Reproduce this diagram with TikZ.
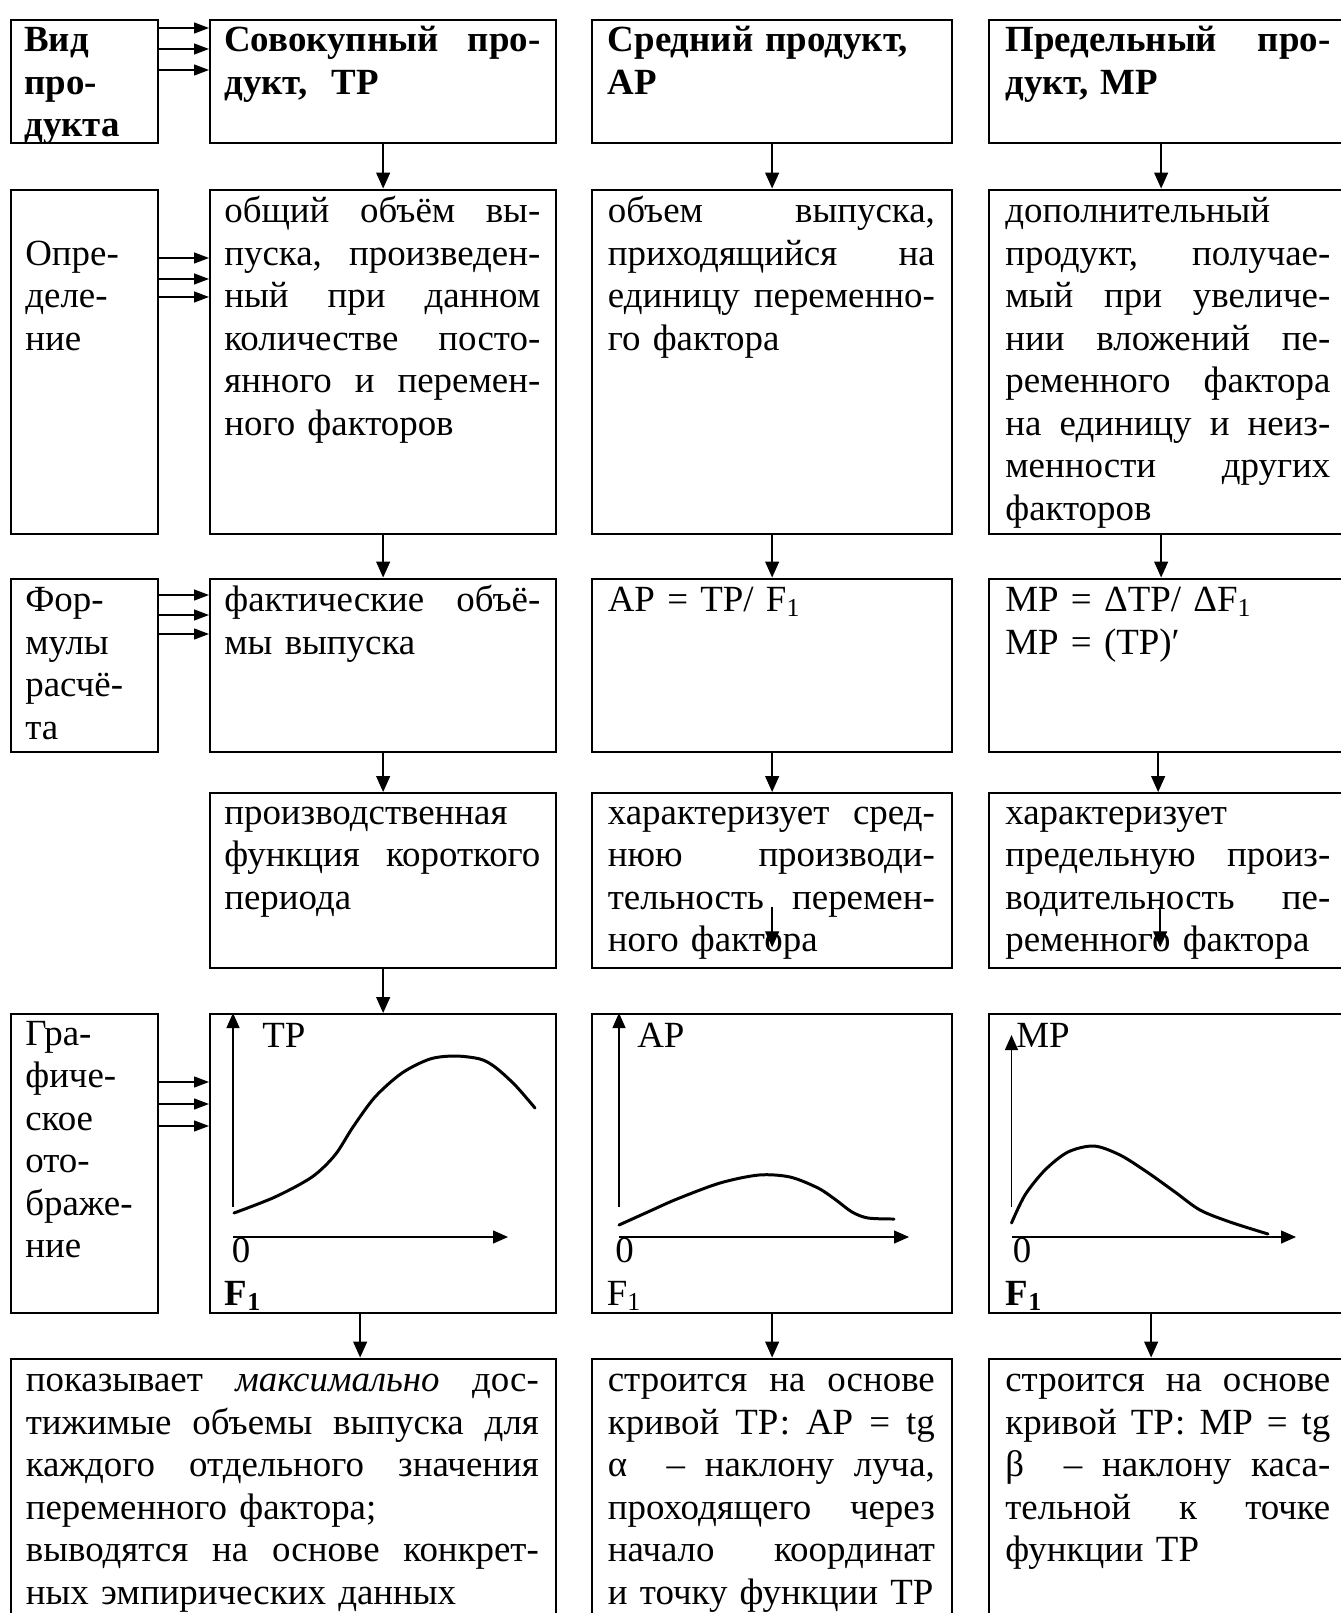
\documentclass[tikz,border=0pt]{standalone}
\usepackage{fontspec}
\setmainfont{Liberation Serif}
\usetikzlibrary{arrows.meta, positioning, calc}

\newlength\px
\setlength\px{0.02cm}
\newcommand\fs{\fontsize{21pt}{24.2pt}\selectfont}
\newcommand\jline[1]{\makebox[\linewidth][s]{\spaceskip=0pt\xspaceskip=0pt #1}}

\begin{document}
\begin{tikzpicture}[
    x=0.02cm, y=-0.02cm,
    box/.style={draw, line width=1.3pt, anchor=north west, inner sep=0pt},
    txt/.style={anchor=base west, inner sep=0pt, align=left, font=\fs},
    hdr/.style={txt, font=\fs\bfseries},
    darr/.style={-{Triangle[length=0.32cm, width=0.28cm]}, line width=0.75pt},
    sarr/.style={-{Triangle[length=0.3cm, width=0.22cm]}, line width=0.75pt},
    axis/.style={-{Triangle[length=0.3cm, width=0.26cm]}, line width=0.75pt},
    curve/.style={line width=1.7pt, line cap=round}
]
    \useasboundingbox (0,0) rectangle (1340,1613);

    % row 1: kind of product
    \node[box, minimum width=147\px, minimum height=123.5\px] (vid) at (10,18.5) {};
    \node[box, minimum width=346\px, minimum height=123.5\px] (tp1) at (209,18.5) {};
    \node[box, minimum width=360\px, minimum height=123.5\px] (ap1) at (591,18.5) {};
    \node[box, minimum width=357\px, minimum height=123.5\px] (mp1) at (988,18.5) {};
    \node[hdr, text width=125\px] (vidT) at (24,51.5) {Вид\\про-\\дукта};
    \node[hdr, text width=316\px] (tp1T) at (224,51.5) {\jline{Совокупный про-}\\дукт,\ \ ТР};
    \node[hdr, text width=327\px] (ap1T) at (607.5,51.5) {Средний продукт,\\АР};
    \node[hdr, text width=325\px] (mp1T) at (1005,51.5) {\jline{Предельный про-}\\дукт, МР};

    % row 2: definition
    \node[box, minimum width=147\px, minimum height=344\px] (def) at (10,188.5) {};
    \node[box, minimum width=346\px, minimum height=344\px] (tp2) at (209,188.5) {};
    \node[box, minimum width=360\px, minimum height=344\px] (ap2) at (591,188.5) {};
    \node[box, minimum width=357\px, minimum height=344\px] (mp2) at (988,188.5) {};
    \node[txt, text width=125\px] (defT) at (25,265) {Опре-\\деле-\\ние};
    \node[txt, text width=316\px] (tp2T) at (224,222.5) {\jline{общий объём вы-}\\\jline{пуска, произведен-}\\\jline{ный при данном}\\\jline{количестве посто-}\\\jline{янного и перемен-}\\ного факторов};
    \node[txt, text width=327\px] (ap2T) at (607.5,222.5) {\jline{объем выпуска,}\\\jline{приходящийся на}\\\jline{единицу переменно-}\\го фактора};
    \node[txt, text width=325\px] (mp2T) at (1005,222.5) {дополнительный\\\jline{продукт, получае-}\\\jline{мый при увеличе-}\\\jline{нии вложений пе-}\\\jline{ременного фактора}\\\jline{на единицу и неиз-}\\\jline{менности других}\\факторов};

    % row 3: formulas
    \node[box, minimum width=147\px, minimum height=173\px] (frm) at (10,577.5) {};
    \node[box, minimum width=346\px, minimum height=173\px] (tp3) at (209,577.5) {};
    \node[box, minimum width=360\px, minimum height=173\px] (ap3) at (591,577.5) {};
    \node[box, minimum width=357\px, minimum height=173\px] (mp3) at (988,577.5) {};
    \node[txt, text width=125\px] (frmT) at (25,611.5) {Фор-\\мулы\\расчё-\\та};
    \node[txt, text width=316\px] (tp3T) at (224,611.5) {\jline{фактические объё-}\\мы выпуска};
    \node[txt, text width=327\px] (ap3T) at (607.5,611.5) {AP = TP/ F\textsubscript{1}};
    \node[txt, text width=325\px] (mp3T) at (1005,611.5) {MP = ΔTP/ ΔF\textsubscript{1}\\MP = (TP)′};

    % row 4: meaning
    \node[box, minimum width=346\px, minimum height=175\px] (tp4) at (209,792) {};
    \node[box, minimum width=360\px, minimum height=175\px] (ap4) at (591,792) {};
    \node[box, minimum width=357\px, minimum height=175\px] (mp4) at (988,792) {};
    \node[txt, text width=316\px] (tp4T) at (224,824) {производственная\\\jline{функция короткого}\\периода};
    \node[txt, text width=327\px] (ap4T) at (607.5,824) {\jline{характеризует сред-}\\\jline{нюю производи-}\\\jline{тельность перемен-}\\ного фактора};
    \node[txt, text width=325\px] (mp4T) at (1005,824) {характеризует\\\jline{предельную произ-}\\\jline{водительность пе-}\\ременного фактора};

    % row 5: graphs
    \node[box, minimum width=147\px, minimum height=299\px] (grf) at (10,1013) {};
    \node[box, minimum width=346\px, minimum height=299\px] (tp5) at (209,1013) {};
    \node[box, minimum width=360\px, minimum height=299\px] (ap5) at (591,1013) {};
    \node[box, minimum width=357\px, minimum height=299\px] (mp5) at (988,1013) {};
    \node[txt, text width=125\px] (grfT) at (25,1045) {Гра-\\фиче-\\ское\\ото-\\браже-\\ние};

    \draw[axis] (233,1207) -- (233,1013);
    \draw[axis] (233,1237) -- (508,1237);
    \draw[curve] plot[smooth] coordinates {(234,1213) (275,1197) (312,1177) (335,1155) (353,1127) (375,1097) (402,1073) (430,1059) (455,1056) (480,1059) (495,1067) (515,1085) (535,1108)};
    \node[txt] (tpY) at (262,1047) {ТР};
    \node[txt, anchor=base] (tp0) at (241,1262) {0};
    \node[txt] (tpX) at (224.5,1305) {\textbf{F\textsubscript{1}}};

    \draw[axis] (619,1207) -- (619,1013);
    \draw[axis] (619,1237) -- (909,1237);
    \draw[curve] plot[smooth] coordinates {(619,1225) (650,1211) (677,1199) (720,1183) (759,1175) (790,1177) (818,1188) (836,1200) (852,1212) (868,1218) (894,1219)};
    \node[txt] (apY) at (637,1047) {AP};
    \node[txt, anchor=base] (ap0) at (624.5,1262) {0};
    \node[txt] (apX) at (606.5,1305) {F\textsubscript{1}};

    \draw[axis] (1011.5,1207) -- (1011.5,1035);
    \draw[axis] (1011.5,1237) -- (1296,1237);
    \draw[curve] plot[smooth] coordinates {(1011.5,1223) (1025,1195) (1045,1170) (1068,1152) (1094,1146) (1120,1155) (1147,1172) (1175,1192) (1200,1210) (1230,1222) (1268,1234)};
    \node[txt] (mpY) at (1016,1047) {MP};
    \node[txt, anchor=base] (mp0) at (1022,1262) {0};
    \node[txt] (mpX) at (1005.5,1305) {\textbf{F\textsubscript{1}}};

    % row 6: how the curves are built
    \node[box, minimum width=545\px, minimum height=270\px] (tp6) at (10,1357.5) {};
    \node[box, minimum width=360\px, minimum height=270\px] (ap6) at (591,1357.5) {};
    \node[box, minimum width=357\px, minimum height=270\px] (mp6) at (988,1357.5) {};
    \node[txt, text width=513\px] (tp6T) at (25.5,1391.5) {\jline{показывает \textit{максимально} дос-}\\\jline{тижимые объемы выпуска для}\\\jline{каждого отдельного значения}\\переменного фактора;\\\jline{выводятся на основе конкрет-}\\ных эмпирических данных};
    \node[txt, text width=327\px] (ap6T) at (607.5,1391.5) {\jline{строится на основе}\\\jline{кривой ТР: АР = tg}\\\jline{α\ \ – наклону луча,}\\\jline{проходящего через}\\\jline{начало координат}\\и точку функции ТР};
    \node[txt, text width=325\px] (mp6T) at (1005,1391.5) {\jline{строится на основе}\\\jline{кривой ТР: МР = tg}\\\jline{β\ \ – наклону каса-}\\\jline{тельной к точке}\\функции ТР};

    % side arrows
    \foreach \dy in {0.19,0.61,1.03}
        \draw[sarr] ([yshift=-\dy cm]vid.north east) -- ([yshift=-\dy cm]tp1.north west);
    \foreach \dy in {1.39,1.81,2.17}
        \draw[sarr] ([yshift=-\dy cm]def.north east) -- ([yshift=-\dy cm]tp2.north west);
    \foreach \dy in {0.35,0.75,1.13}
        \draw[sarr] ([yshift=-\dy cm]frm.north east) -- ([yshift=-\dy cm]tp3.north west);
    \foreach \dy in {1.38,1.82,2.26}
        \draw[sarr] ([yshift=-\dy cm]grf.north east) -- ([yshift=-\dy cm]tp5.north west);

    % down arrows
    \draw[darr] (tp1) -- (tp2);
    \draw[darr] (tp2) -- (tp3);
    \draw[darr] (tp3) -- (tp4);
    \draw[darr] (tp4) -- (tp5);
    \draw[darr] ([xshift=-0.46cm]tp5.south) -- ([xshift=-0.46cm]tp5.south |- tp6.north);
    \draw[darr] (ap1) -- (ap2);
    \draw[darr] (ap2) -- (ap3);
    \draw[darr] (ap3) -- (ap4);
    \draw[darr] ([yshift=1.24cm]ap4.south) -- ([yshift=0.44cm]ap4.south);
    \draw[darr] (ap5) -- (ap6);
    \draw[darr] ([xshift=-0.13cm]mp1.south) -- ([xshift=-0.13cm]mp2.north);
    \draw[darr] ([xshift=-0.13cm]mp2.south) -- ([xshift=-0.13cm]mp3.north);
    \draw[darr] ([xshift=-0.19cm]mp3.south) -- ([xshift=-0.19cm]mp4.north);
    \draw[darr] ([xshift=-0.15cm,yshift=1.24cm]mp4.south) -- ([xshift=-0.15cm,yshift=0.44cm]mp4.south);
    \draw[darr] ([xshift=-0.33cm]mp5.south) -- ([xshift=-0.33cm]mp6.north);
\end{tikzpicture}
\end{document}
